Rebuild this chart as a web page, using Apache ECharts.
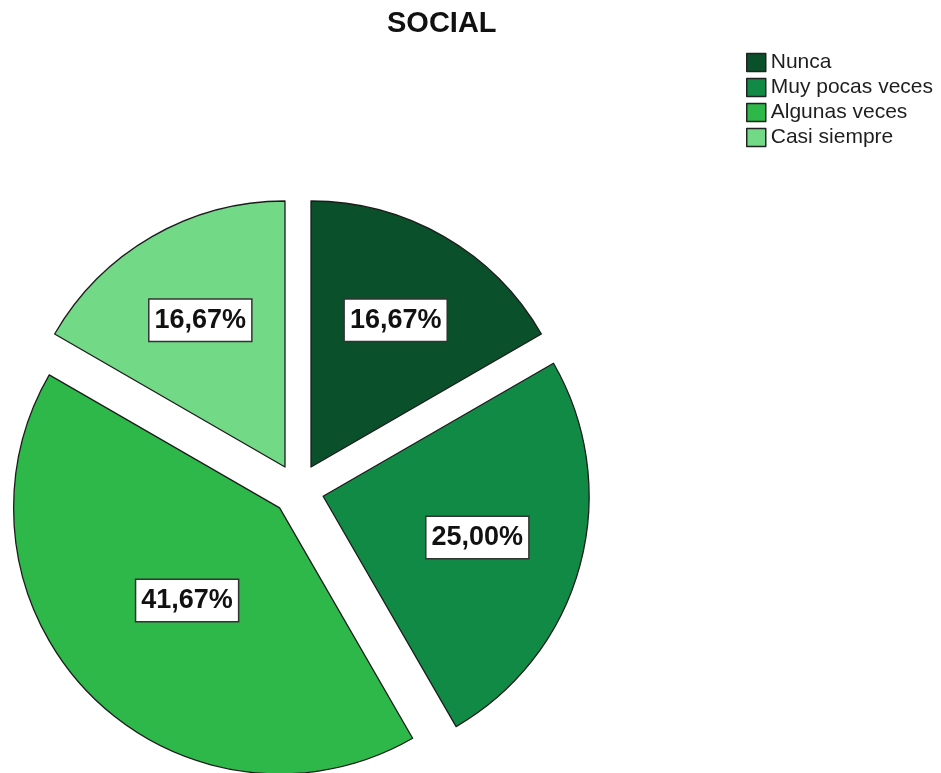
<!DOCTYPE html>
<html>
<head>
<meta charset="utf-8">
<script src="https://cdn.jsdelivr.net/npm/echarts@6/dist/echarts.min.js"></script>
<style>
  html, body { margin: 0; padding: 0; background: #fff; }
  #chart { width: 941px; height: 773px; }
</style>
</head>
<body>
<div id="chart"></div>
<script>
// Response categories and their shares (percent of respondents)
const categories = ['Nunca', 'Muy pocas veces', 'Algunas veces', 'Casi siempre'];
const shares = [16.67, 25.00, 41.67, 16.67];
const sliceColors = ['#0a502a', '#108a45', '#2eb84a', '#72da86'];

const PIE_CENTER = [298, 489.5];
const PIE_RADIUS = 266;
const EXPLODE = 26;

const total = shares.reduce((a, b) => a + b, 0);

// Mid angle (clockwise from 12 o'clock) and sector half-angle for each slice
const sliceGeom = (function () {
  let acc = 0;
  return shares.map(v => {
    const half = (v / total) * Math.PI;
    const mid = (acc / total) * 2 * Math.PI + half;
    acc += v;
    return { mid: mid, half: half };
  });
})();

const fmt = v => v.toFixed(2).replace('.', ',') + '%';
const FONT = 'Liberation Sans, Arial, sans-serif';

const chart = echarts.init(document.getElementById('chart'), null, { renderer: 'canvas' });

chart.setOption({
  animation: false,
  backgroundColor: '#ffffff',
  title: {
    text: 'SOCIAL',
    left: 387,
    top: 9,
    padding: 0,
    textStyle: { fontFamily: FONT, fontSize: 29, fontWeight: 'bold', color: '#111' }
  },
  legend: {
    orient: 'vertical',
    left: 746,
    top: 52,
    padding: 0,
    itemWidth: 19,
    itemHeight: 18,
    itemGap: 4,
    icon: 'rect',
    selectedMode: false,
    itemStyle: { borderColor: '#222', borderWidth: 1.5 },
    textStyle: {
      fontFamily: FONT,
      fontSize: 21,
      lineHeight: 18,
      color: '#1e1e1e'
    },
    data: categories
  },
  series: [
    // Exploded pie slices
    {
      type: 'pie',
      center: PIE_CENTER,
      radius: PIE_RADIUS,
      startAngle: 90,
      clockwise: true,
      selectedMode: 'multiple',
      selectedOffset: EXPLODE,
      itemStyle: { borderColor: '#1c1c1c', borderWidth: 1.3 },
      emphasis: { disabled: true },
      select: { itemStyle: { borderColor: '#1c1c1c', borderWidth: 1.3 } },
      label: { show: false },
      labelLine: { show: false },
      data: categories.map((name, i) => ({
        name: name,
        value: shares[i],
        selected: true,
        itemStyle: { color: sliceColors[i] }
      }))
    },
    // Invisible twin carrying the percentage labels, placed at each sector's centroid
    {
      type: 'pie',
      center: PIE_CENTER,
      radius: PIE_RADIUS,
      startAngle: 90,
      clockwise: true,
      silent: true,
      emphasis: { disabled: true },
      itemStyle: { color: 'rgba(0,0,0,0)', borderWidth: 0 },
      label: {
        show: true,
        position: 'inside',
        formatter: p => fmt(shares[p.dataIndex]),
        fontFamily: FONT,
        fontSize: 27,
        fontWeight: 'bold',
        color: '#111',
        backgroundColor: '#ffffff',
        borderColor: '#333',
        borderWidth: 1.5,
        padding: [5, 5, 4, 5],
        lineHeight: 32
      },
      labelLayout: function (p) {
        const g = sliceGeom[p.dataIndex];
        const d = EXPLODE + 2 * PIE_RADIUS * Math.sin(g.half) / (3 * g.half);
        return {
          x: PIE_CENTER[0] + d * Math.sin(g.mid),
          y: PIE_CENTER[1] - d * Math.cos(g.mid),
          align: 'center',
          verticalAlign: 'middle'
        };
      },
      labelLine: { show: false },
      data: categories.map((name, i) => ({ name: name, value: shares[i] }))
    }
  ]
});
</script>
</body>
</html>
